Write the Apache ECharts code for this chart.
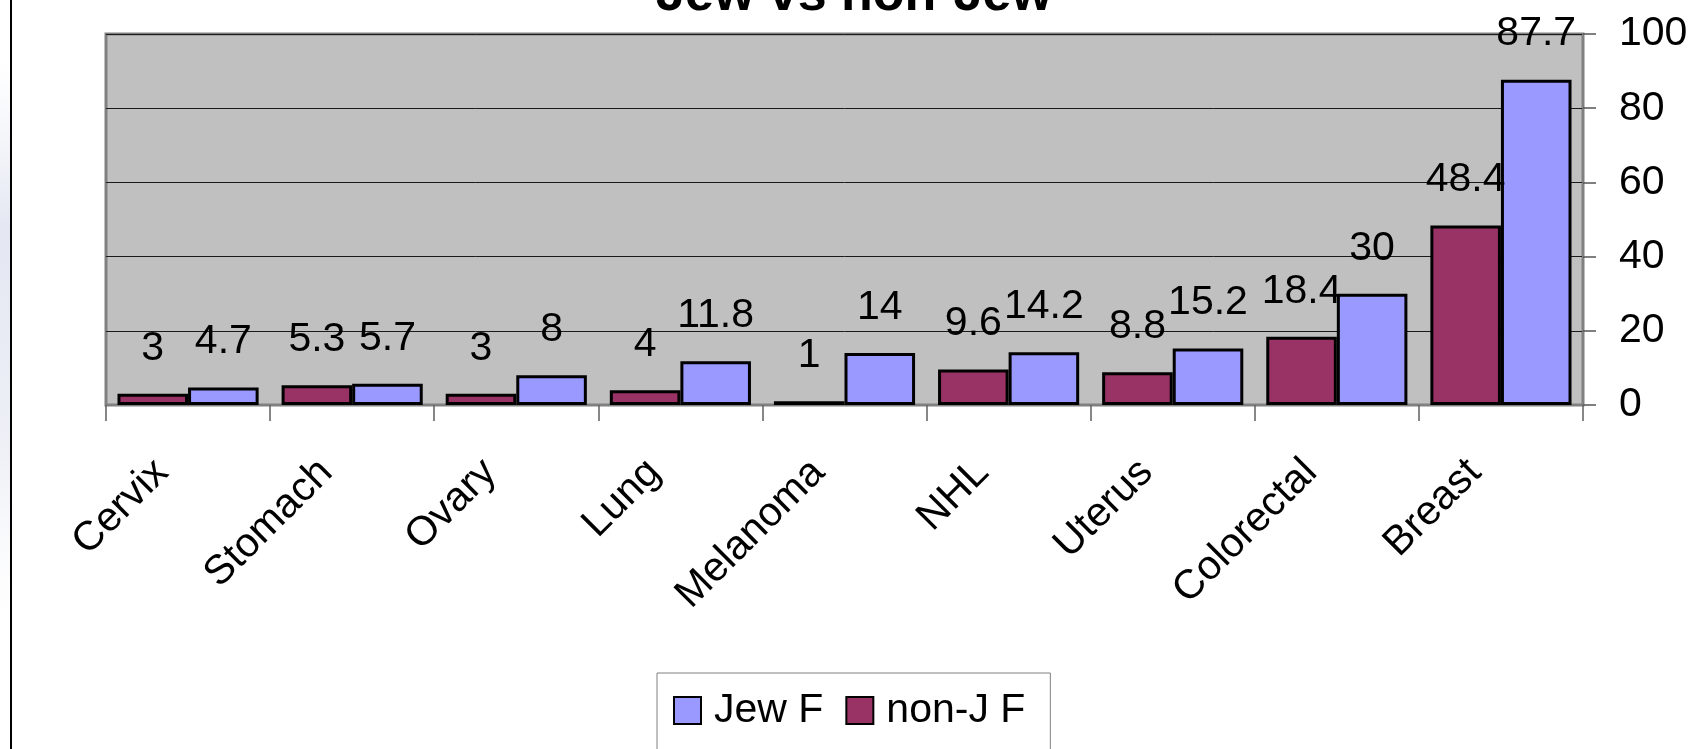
<!DOCTYPE html>
<html>
<head>
<meta charset="utf-8">
<script src="https://cdn.jsdelivr.net/npm/echarts@6/dist/echarts.min.js"></script>
<style>
  html, body { margin: 0; padding: 0; background: #fff; }
  #chart { width: 1694px; height: 749px; }
</style>
</head>
<body>
<div id="chart"></div>
<script>
// data
var categories = ['Cervix', 'Stomach', 'Ovary', 'Lung', 'Melanoma', 'NHL', 'Uterus', 'Colorectal', 'Breast']
var nonJewF = [3, 5.3, 3, 4, 1, 9.6, 8.8, 18.4, 48.4]
var jewF = [4.7, 5.7, 8, 11.8, 14, 14.2, 15.2, 30, 87.7]
var legendNames = ['Jew F', 'non-J F']
var yTicks = { min: 0, max: 100, interval: 20 }

var font = 'Liberation Sans, Arial, sans-serif'

var chart = echarts.init(document.getElementById('chart'))

// shared label for both bar series
var barLabel = {
  show: true,
  position: 'top',
  distance: 25,
  color: '#000',
  fontFamily: font,
  fontSize: 41
}

var option = {
  animation: false,
  backgroundColor: '#fff',
  textStyle: { fontFamily: font },
  graphic: [
    {
      // faint slide background at the left edge
      type: 'rect',
      shape: { x: 0, y: 60, width: 10, height: 560 },
      style: {
        fill: new echarts.graphic.LinearGradient(0, 0, 0, 1, [
          { offset: 0, color: 'rgba(235,238,246,0)' },
          { offset: 0.3, color: '#e4e7f2' },
          { offset: 0.7, color: '#eef0f6' },
          { offset: 1, color: 'rgba(245,246,249,0)' }
        ])
      },
      silent: true
    },
    {
      type: 'line',
      shape: { x1: 11, y1: 0, x2: 11, y2: 749 },
      style: { stroke: '#000', lineWidth: 2 },
      silent: true
    },
    {
      // title, mostly cut off by the top edge
      type: 'text',
      x: 854,
      y: -4,
      style: {
        text: 'Jew vs non-Jew',
        fontFamily: font,
        fontWeight: 'bold',
        fontSize: 52,
        fill: '#000',
        textAlign: 'center',
        textVerticalAlign: 'middle'
      },
      silent: true
    }
  ],
  legend: {
    data: legendNames,
    left: 657,
    top: 673,
    orient: 'horizontal',
    icon: 'rect',
    itemWidth: 27,
    itemHeight: 27,
    itemGap: 22,
    padding: [17, 25, 40, 16],
    borderColor: '#808080',
    borderWidth: 1,
    textStyle: {
      color: '#000',
      fontFamily: font,
      fontSize: 41,
      lineHeight: 40,
      padding: [0, 0, 0, 8]
    }
  },
  grid: {
    left: 106,
    right: 111,
    top: 34,
    bottom: 344,
    show: true,
    backgroundColor: '#c0c0c0',
    borderColor: '#808080',
    borderWidth: 3,
    outerBoundsMode: 'none'
  },
  xAxis: {
    type: 'category',
    data: categories,
    axisLine: { lineStyle: { color: '#808080', width: 2 } },
    axisTick: { show: true, length: 16, lineStyle: { color: '#606060', width: 1.5 } },
    axisLabel: {
      interval: 0,
      rotate: 45,
      margin: 35,
      padding: [0, 37, 0, 0],
      color: '#000',
      fontFamily: font,
      fontSize: 41
    }
  },
  yAxis: {
    type: 'value',
    position: 'right',
    min: yTicks.min,
    max: yTicks.max,
    interval: yTicks.interval,
    axisLine: { show: true, lineStyle: { color: '#808080', width: 2 } },
    axisTick: { show: true, length: 13, lineStyle: { color: '#555', width: 1.5 } },
    axisLabel: {
      margin: 36,
      color: '#000',
      fontFamily: font,
      fontSize: 41
    },
    splitLine: { show: true, lineStyle: { color: '#1a1a1a', width: 1 } }
  },
  series: [
    {
      name: 'non-J F',
      type: 'bar',
      data: nonJewF,
      barGap: '0%',
      barCategoryGap: '14%',
      itemStyle: { color: '#993366', borderColor: '#000', borderWidth: 3 },
      label: barLabel
    },
    {
      name: 'Jew F',
      type: 'bar',
      data: jewF,
      barGap: '0%',
      barCategoryGap: '14%',
      itemStyle: { color: '#9999ff', borderColor: '#000', borderWidth: 3 },
      label: barLabel
    }
  ]
}

chart.setOption(option)
</script>
</body>
</html>
